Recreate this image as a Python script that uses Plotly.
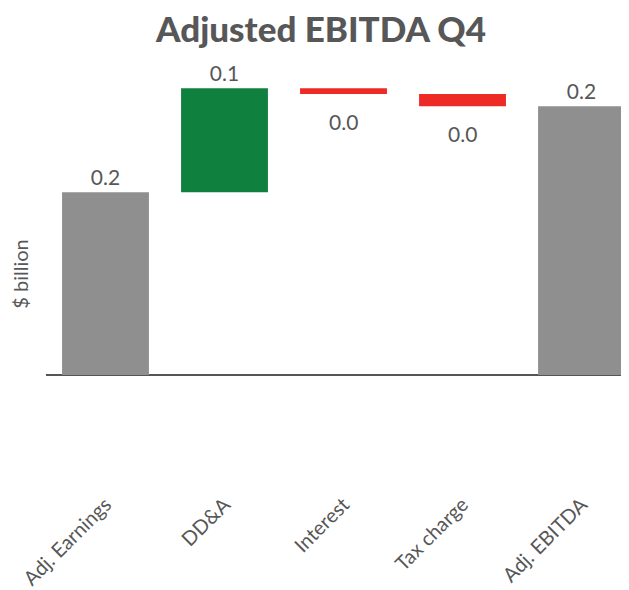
import plotly.graph_objects as go

categories = ["Adj. Earnings", "DD&A", "Interest", "Tax charge", "Adj. EBITDA"]
values = [0.16, 0.091, -0.005, -0.0108, 0.0]
measures = ["absolute", "relative", "relative", "relative", "total"]

TXT = "#575757"

# running totals -> labels; negative-bar labels drawn as annotations below the bars
running = 0.0
bar_text = []
neg_labels = []
for cat, v, m in zip(categories, values, measures):
    if m == "total":
        bar_text.append(f"{abs(running):.1f}")
    else:
        running += v
        if v < 0:
            bar_text.append("")
            neg_labels.append((cat, running, f"{abs(v):.1f}"))
        else:
            bar_text.append(f"{abs(v):.1f}")

fig = go.Figure(go.Waterfall(
    x=categories,
    y=values,
    measure=measures,
    text=bar_text,
    textposition="outside",
    textfont=dict(size=21, color=TXT, family="Lato"),
    cliponaxis=False,
    connector=dict(visible=False),
    increasing=dict(marker=dict(color="#10803f")),
    decreasing=dict(marker=dict(color="#ee2a27")),
    totals=dict(marker=dict(color="#8f8f8f")),
    hoverinfo="x+y",
))

for cat, yv, txt in neg_labels:
    fig.add_annotation(x=cat, y=yv, xref="x", yref="y", text=txt, showarrow=False,
                       yanchor="top", yshift=-13, font=dict(size=21, color=TXT, family="Lato"))

fig.update_layout(
    width=621, height=582,
    margin=dict(l=38, r=0, t=52, b=102),
    paper_bgcolor="white", plot_bgcolor="white",
    showlegend=False,
    waterfallgap=0.27,
    font=dict(family="Lato", color=TXT),
    title=dict(text="Adjusted EBITDA Q4", x=0.504, xanchor="center", y=0.962, yanchor="middle",
               font=dict(size=35, color=TXT, family="Lato", weight=900)),
    xaxis=dict(range=[-0.5, 4.399], tickangle=-45, showgrid=False, showline=False,
               ticks="", tickfont=dict(size=20, color=TXT), automargin=False),
    yaxis=dict(range=[-0.099, 0.2758], showgrid=False, showticklabels=False, ticks="",
               zeroline=True, zerolinecolor="#555555", zerolinewidth=2, automargin=False,
               title=dict(text="$ billion", font=dict(size=20, color=TXT), standoff=11)),
)

fig.write_html("out.html")
